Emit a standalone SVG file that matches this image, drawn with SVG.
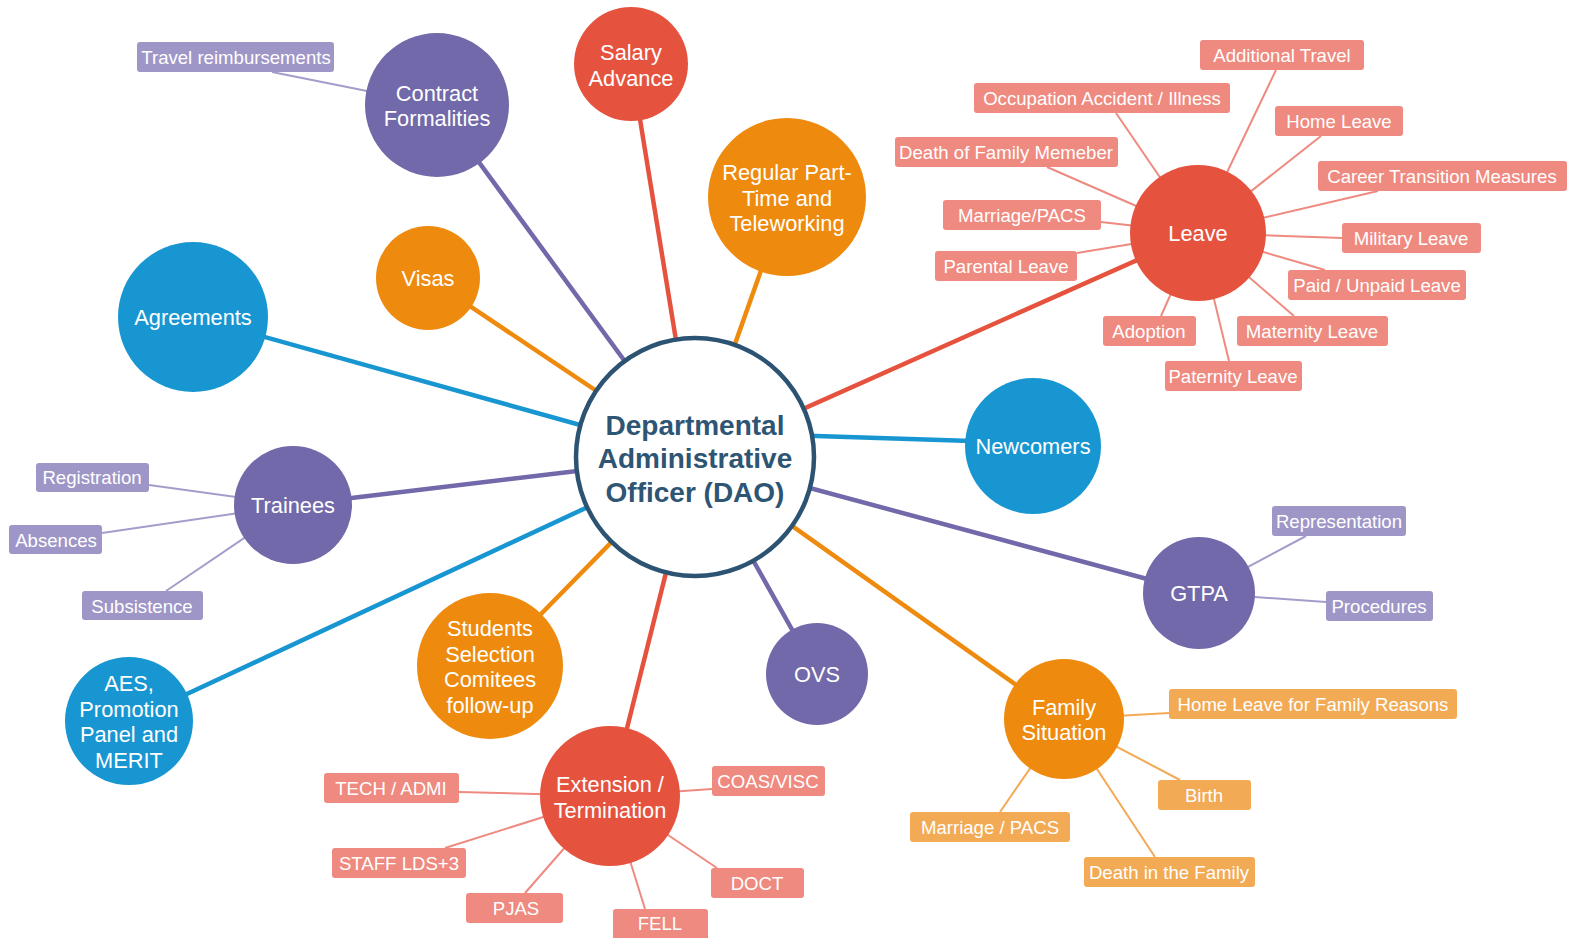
<svg xmlns="http://www.w3.org/2000/svg" width="1571" height="938" viewBox="0 0 1571 938">
<style>
text{font-family:"Liberation Sans",Arial,sans-serif;fill:#fff;text-anchor:middle;dominant-baseline:central}
.n{font-size:21.8px}
.b{font-size:18.6px}
.c{font-size:28px;font-weight:bold;fill:#2e5573}
.pu{fill:#7169a9}.re{fill:#e5533f}.or{fill:#ee8a0d}.bl{fill:#1896d1}
.bs{fill:#ef8a80}.bp{fill:#9e96c7}.bo{fill:#f3aa55}
.m{stroke-width:4.5;fill:none}
.s{stroke-width:2;fill:none}
.lpu{stroke:#7169a9}.lre{stroke:#e5533f}.lor{stroke:#ee8a0d}.lbl{stroke:#1896d1}
.lbs{stroke:#ef8a80}.lbp{stroke:#a49dca}.lbo{stroke:#f3aa55}
</style>
<rect width="1571" height="938" fill="#fff"/>
<g id="connectors">
<line class="m lpu" x1="695" y1="457" x2="437" y2="105"/>
<line class="m lre" x1="695" y1="457" x2="631" y2="64"/>
<line class="m lor" x1="695" y1="457" x2="787" y2="197"/>
<line class="m lor" x1="695" y1="457" x2="428" y2="278"/>
<line class="m lbl" x1="695" y1="457" x2="193" y2="317"/>
<line class="m lpu" x1="695" y1="457" x2="293" y2="505"/>
<line class="m lbl" x1="695" y1="457" x2="129" y2="721"/>
<line class="m lor" x1="695" y1="457" x2="490" y2="666"/>
<line class="m lre" x1="695" y1="457" x2="610" y2="796"/>
<line class="m lpu" x1="695" y1="457" x2="817" y2="674"/>
<line class="m lor" x1="695" y1="457" x2="1064" y2="719"/>
<line class="m lpu" x1="695" y1="457" x2="1199" y2="593"/>
<line class="m lbl" x1="695" y1="432" x2="1033" y2="443"/>
<line class="m lre" x1="695" y1="457" x2="1198" y2="233"/>
<!-- Leave sub -->
<line class="s lbs" x1="1198" y1="233" x2="1276" y2="70"/>
<line class="s lbs" x1="1198" y1="233" x2="1116" y2="113"/>
<line class="s lbs" x1="1198" y1="233" x2="1321" y2="136"/>
<line class="s lbs" x1="1198" y1="233" x2="1047" y2="167"/>
<line class="s lbs" x1="1198" y1="233" x2="1378" y2="191"/>
<line class="s lbs" x1="1198" y1="233" x2="1101" y2="222"/>
<line class="s lbs" x1="1198" y1="233" x2="1342" y2="238"/>
<line class="s lbs" x1="1198" y1="233" x2="1077" y2="253"/>
<line class="s lbs" x1="1198" y1="233" x2="1325" y2="270"/>
<line class="s lbs" x1="1198" y1="233" x2="1161" y2="316"/>
<line class="s lbs" x1="1198" y1="233" x2="1294" y2="316"/>
<line class="s lbs" x1="1198" y1="233" x2="1229" y2="361"/>
<!-- Trainees sub -->
<line class="s lbp" x1="293" y1="505" x2="149" y2="485"/>
<line class="s lbp" x1="293" y1="505" x2="102" y2="533"/>
<line class="s lbp" x1="293" y1="505" x2="166" y2="591"/>
<!-- Contract sub -->
<line class="s lbp" x1="437" y1="105" x2="272" y2="72"/>
<!-- GTPA sub -->
<line class="s lbp" x1="1199" y1="593" x2="1306" y2="536"/>
<line class="s lbp" x1="1199" y1="593" x2="1326" y2="602"/>
<!-- Extension sub -->
<line class="s lbs" x1="610" y1="796" x2="459" y2="792"/>
<line class="s lbs" x1="610" y1="796" x2="712" y2="789"/>
<line class="s lbs" x1="610" y1="796" x2="445" y2="848"/>
<line class="s lbs" x1="610" y1="796" x2="717" y2="868"/>
<line class="s lbs" x1="610" y1="796" x2="525" y2="893"/>
<line class="s lbs" x1="610" y1="796" x2="645" y2="909"/>
<!-- Family sub -->
<line class="s lbo" x1="1064" y1="719" x2="1169" y2="713"/>
<line class="s lbo" x1="1064" y1="719" x2="1180" y2="780"/>
<line class="s lbo" x1="1064" y1="719" x2="1000" y2="812"/>
<line class="s lbo" x1="1064" y1="719" x2="1155" y2="857"/>
</g>
<g id="dao">
<circle cx="695" cy="457" r="119" fill="#fff" stroke="#2d5372" stroke-width="4.5"/>
<text class="c" x="695" y="425">Departmental</text>
<text class="c" x="695" y="458">Administrative</text>
<text class="c" x="695" y="492">Officer (DAO)</text>
</g>
<g id="contract"><circle class="pu" cx="437" cy="105" r="72"/><text class="n" x="437" y="93">Contract</text><text class="n" x="437" y="118">Formalities</text></g>
<g id="salary"><circle class="re" cx="631" cy="64" r="57"/><text class="n" x="631" y="52">Salary</text><text class="n" x="631" y="78">Advance</text></g>
<g id="parttime"><circle class="or" cx="787" cy="197" r="79"/><text class="n" x="787" y="172">Regular Part-</text><text class="n" x="787" y="198">Time and</text><text class="n" x="787" y="223">Teleworking</text></g>
<g id="visas"><circle class="or" cx="428" cy="278" r="52"/><text class="n" x="428" y="278">Visas</text></g>
<g id="agreements"><circle class="bl" cx="193" cy="317" r="75"/><text class="n" x="193" y="317">Agreements</text></g>
<g id="trainees"><circle class="pu" cx="293" cy="505" r="59"/><text class="n" x="293" y="505">Trainees</text></g>
<g id="aes"><circle class="bl" cx="129" cy="721" r="64"/><text class="n" x="129" y="683">AES,</text><text class="n" x="129" y="709">Promotion</text><text class="n" x="129" y="734">Panel and</text><text class="n" x="129" y="760">MERIT</text></g>
<g id="students"><circle class="or" cx="490" cy="666" r="73"/><text class="n" x="490" y="628">Students</text><text class="n" x="490" y="654">Selection</text><text class="n" x="490" y="679">Comitees</text><text class="n" x="490" y="705">follow-up</text></g>
<g id="extension"><circle class="re" cx="610" cy="796" r="70"/><text class="n" x="610" y="784">Extension /</text><text class="n" x="610" y="810">Termination</text></g>
<g id="ovs"><circle class="pu" cx="817" cy="674" r="51"/><text class="n" x="817" y="674">OVS</text></g>
<g id="family"><circle class="or" cx="1064" cy="719" r="60"/><text class="n" x="1064" y="707">Family</text><text class="n" x="1064" y="732">Situation</text></g>
<g id="gtpa"><circle class="pu" cx="1199" cy="593" r="56"/><text class="n" x="1199" y="593">GTPA</text></g>
<g id="newcomers"><circle class="bl" cx="1033" cy="446" r="68"/><text class="n" x="1033" y="446">Newcomers</text></g>
<g id="leave"><circle class="re" cx="1198" cy="233" r="68"/><text class="n" x="1198" y="233">Leave</text></g>
<g id="leave-items">
<g id="additional-travel"><rect class="bs" x="1200" y="40" width="164" height="30" rx="3"/><text class="b" x="1282" y="55">Additional Travel</text></g>
<g id="occupation"><rect class="bs" x="974" y="83" width="256" height="30" rx="3"/><text class="b" x="1102" y="98">Occupation Accident / Illness</text></g>
<g id="home-leave"><rect class="bs" x="1275" y="106" width="128" height="30" rx="3"/><text class="b" x="1339" y="121">Home Leave</text></g>
<g id="death-member"><rect class="bs" x="895" y="137" width="223" height="30" rx="3"/><text class="b" x="1006" y="152">Death of Family Memeber</text></g>
<g id="career"><rect class="bs" x="1318" y="161" width="249" height="30" rx="3"/><text class="b" x="1442" y="176">Career Transition Measures</text></g>
<g id="marriage-pacs"><rect class="bs" x="943" y="200" width="158" height="30" rx="3"/><text class="b" x="1022" y="215">Marriage/PACS</text></g>
<g id="military"><rect class="bs" x="1342" y="223" width="139" height="30" rx="3"/><text class="b" x="1411" y="238">Military Leave</text></g>
<g id="parental"><rect class="bs" x="935" y="251" width="142" height="30" rx="3"/><text class="b" x="1006" y="266">Parental Leave</text></g>
<g id="paid"><rect class="bs" x="1288" y="270" width="178" height="30" rx="3"/><text class="b" x="1377" y="285">Paid / Unpaid Leave</text></g>
<g id="adoption"><rect class="bs" x="1103" y="316" width="93" height="30" rx="3"/><text class="b" x="1149" y="331">Adoption</text></g>
<g id="maternity"><rect class="bs" x="1237" y="316" width="151" height="30" rx="3"/><text class="b" x="1312" y="331">Maternity Leave</text></g>
<g id="paternity"><rect class="bs" x="1165" y="361" width="137" height="30" rx="3"/><text class="b" x="1233" y="376">Paternity Leave</text></g>
</g>
<g id="trainee-items">
<g id="registration"><rect class="bp" x="36" y="463" width="113" height="29" rx="3"/><text class="b" x="92" y="477">Registration</text></g>
<g id="absences"><rect class="bp" x="9" y="525" width="93" height="29" rx="3"/><text class="b" x="56" y="540">Absences</text></g>
<g id="subsistence"><rect class="bp" x="82" y="591" width="121" height="29" rx="3"/><text class="b" x="142" y="606">Subsistence</text></g>
</g>
<g id="travel-reimb"><rect class="bp" x="137" y="42" width="197" height="30" rx="3"/><text class="b" x="236" y="57">Travel reimbursements</text></g>
<g id="gtpa-items">
<g id="representation"><rect class="bp" x="1272" y="506" width="134" height="30" rx="3"/><text class="b" x="1339" y="521">Representation</text></g>
<g id="procedures"><rect class="bp" x="1326" y="591" width="107" height="30" rx="3"/><text class="b" x="1379" y="606">Procedures</text></g>
</g>
<g id="extension-items">
<g id="tech"><rect class="bs" x="324" y="773" width="135" height="30" rx="3"/><text class="b" x="391" y="788">TECH / ADMI</text></g>
<g id="coas"><rect class="bs" x="712" y="766" width="113" height="30" rx="3"/><text class="b" x="768" y="781">COAS/VISC</text></g>
<g id="staff"><rect class="bs" x="332" y="848" width="134" height="30" rx="3"/><text class="b" x="399" y="863">STAFF LDS+3</text></g>
<g id="doct"><rect class="bs" x="711" y="868" width="93" height="30" rx="3"/><text class="b" x="757" y="883">DOCT</text></g>
<g id="pjas"><rect class="bs" x="466" y="893" width="97" height="30" rx="3"/><text class="b" x="516" y="908">PJAS</text></g>
<g id="fell"><rect class="bs" x="613" y="909" width="95" height="34" rx="3"/><text class="b" x="660" y="923">FELL</text></g>
</g>
<g id="family-items">
<g id="home-family"><rect class="bo" x="1169" y="689" width="288" height="30" rx="3"/><text class="b" x="1313" y="704">Home Leave for Family Reasons</text></g>
<g id="birth"><rect class="bo" x="1158" y="780" width="93" height="30" rx="3"/><text class="b" x="1204" y="795">Birth</text></g>
<g id="marriage-family"><rect class="bo" x="910" y="812" width="160" height="30" rx="3"/><text class="b" x="990" y="827">Marriage / PACS</text></g>
<g id="death-family"><rect class="bo" x="1084" y="857" width="171" height="30" rx="3"/><text class="b" x="1169" y="872">Death in the Family</text></g>
</g>
</svg>
